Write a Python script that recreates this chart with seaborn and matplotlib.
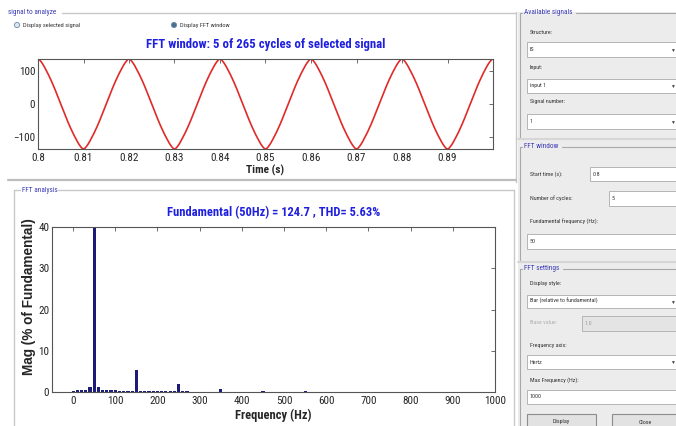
import numpy as np
import pandas as pd
import matplotlib
matplotlib.use("Agg")
import matplotlib.pyplot as plt
from matplotlib import font_manager
from matplotlib.patches import Rectangle, Circle
import seaborn as sns

# ---- data -------------------------------------------------------------
fundamental_hz = 50
fundamental_mag = 124.7
thd_pct = 5.63
t_start, n_cycles, total_cycles = 0.8, 5, 265

# spectrum bins (10 Hz resolution), magnitude in % of fundamental
freq_hz = list(range(0, 1010, 10))
mag_pct = [
    0.2, 0.4, 0.5, 0.5, 1.3, 100.0, 1.2, 0.4, 0.5, 0.4,    # 0 - 90
    0.4, 0.3, 0.2, 0.2, 0.2, 5.3, 0.3, 0.2, 0.15, 0.15,    # 100 - 190
    0.15, 0.15, 0.15, 0.15, 0.2, 1.9, 0.2, 0.15, 0.1, 0.1,  # 200 - 290
    0.1, 0.1, 0.1, 0.1, 0.1, 0.8, 0.1, 0.1, 0.1, 0.1,      # 300 - 390
    0.1, 0.1, 0.1, 0.1, 0.1, 0.3, 0.1, 0.1, 0.1, 0.1,      # 400 - 490
    0.1, 0.1, 0.1, 0.1, 0.1, 0.2, 0.1, 0.1, 0.1, 0.1,      # 500 - 590
    0.1, 0.1, 0.1, 0.1, 0.1, 0.1, 0.1, 0.1, 0.1, 0.1,      # 600 - 690
    0.1, 0.1, 0.1, 0.1, 0.1, 0.1, 0.1, 0.1, 0.1, 0.1,      # 700 - 790
    0.1, 0.1, 0.1, 0.1, 0.1, 0.1, 0.1, 0.1, 0.1, 0.1,      # 800 - 890
    0.1, 0.1, 0.1, 0.1, 0.1, 0.1, 0.1, 0.1, 0.1, 0.1,      # 900 - 990
    0.1,                                                   # 1000
]
time_ticks = [0.8, 0.81, 0.82, 0.83, 0.84, 0.85, 0.86, 0.87, 0.88, 0.89]
sig_yticks = [-100, 0, 100]
freq_ticks = list(range(0, 1100, 100))
mag_yticks = [0, 10, 20, 30, 40]

spec = pd.DataFrame({"freq": freq_hz, "mag": mag_pct})

# time-domain window rebuilt from the odd harmonics of the spectrum
t = np.linspace(t_start, t_start + n_cycles / fundamental_hz, 1500)
harm = spec[(spec["freq"] % (2 * fundamental_hz)) == fundamental_hz]
sig = np.zeros_like(t)
for f, m in zip(harm["freq"], harm["mag"]):
    sig += fundamental_mag * m / 100.0 * np.cos(2 * np.pi * f * (t - t_start))
wave = pd.DataFrame({"t": t, "v": sig})

# ---- style ------------------------------------------------------------
sns.set_style("white")
installed = {f.name for f in font_manager.fontManager.ttflist}
if "Roboto Condensed" in installed:
    NARROW = ["Roboto Condensed", "DejaVu Sans"]
    k = 1.0
else:
    NARROW = ["Liberation Sans", "DejaVu Sans"]
    k = 0.85
plt.rcParams["font.family"] = ["Liberation Sans", "DejaVu Sans"]
W, H = 676, 426
fig = plt.figure(figsize=(W / 100, H / 100), dpi=100)
fig.patch.set_facecolor("white")

def fx(px):
    return px / W

def fy(py):
    return 1 - py / H

# overlay in pixel coordinates for the panel furniture
ov = fig.add_axes([0, 0, 1, 1], zorder=0)
ov.set_xlim(0, W)
ov.set_ylim(H, 0)
ov.axis("off")

PANEL = "#ececec"
EDGE = "#c8c8c8"
LBL = "#3b3bb5"
UI = "#333333"
UIS = 4.3 * k

ov.add_patch(Rectangle((518, 12), W - 518, H - 12, facecolor=PANEL, edgecolor="none"))
ov.plot([516, 516], [12, 182], color=EDGE, lw=1)

# left group boxes
ov.plot([62, 516], [13, 13], color=EDGE, lw=1)
ov.text(8, 13, "signal to analyze", fontsize=5.2 * k, color=LBL, va="center", family=NARROW)
ov.plot([8, 516], [180, 180], color="#bdbdbd", lw=1.6)
ov.add_patch(Circle((17, 25), 2.6, facecolor="#dfe8f0", edgecolor="#6a8aa8", lw=0.6))
ov.text(23, 25, "Display selected signal", fontsize=4.6 * k, color=UI, va="center", family=NARROW)
ov.add_patch(Circle((174, 25), 2.6, facecolor="#4a7090", edgecolor="#6a8aa8", lw=0.6))
ov.text(180, 25, "Display FFT window", fontsize=4.6 * k, color=UI, va="center", family=NARROW)

ov.plot([14, 14], [190, H], color=EDGE, lw=1)
ov.plot([14, 20], [190, 190], color=EDGE, lw=1)
ov.plot([58, 514], [190, 190], color=EDGE, lw=1)
ov.plot([514, 514], [190, H], color=EDGE, lw=1)
ov.text(22, 190, "FFT analysis", fontsize=5.2 * k, color=LBL, va="center", family=NARROW)

# right-hand settings panel
def group(y, label, lx, y_end):
    ov.plot([520, 522], [y, y], color="#a8a8a8", lw=0.8)
    ov.plot([lx, W], [y, y], color="#a8a8a8", lw=0.8)
    ov.plot([520, 520], [y, y_end], color="#a8a8a8", lw=0.8)
    ov.text(524, y, label, fontsize=5.2 * k, color=LBL, va="center", family=NARROW)

def box(x0, y0, x1, y1, txt, arrow=False, fc="white", tc=UI):
    ov.add_patch(Rectangle((x0, y0), x1 - x0, y1 - y0, facecolor=fc,
                           edgecolor="#b5b5b5", lw=0.7))
    ov.text(x0 + 3, (y0 + y1) / 2, txt, fontsize=UIS, color=tc, va="center", family=NARROW)
    if arrow:
        ov.text(672, (y0 + y1) / 2 + 0.5, "\u25BC", fontsize=3.5, color="#404040",
                va="center", ha="center")

def label(x, y, txt, c=UI):
    ov.text(x, y, txt, fontsize=UIS, color=c, va="center", family=NARROW)

group(13, "Available signals", 576, 139)
label(530, 32, "Structure:")
box(527, 42, 679, 57, "IS", arrow=True)
label(530, 67, "Input:")
box(527, 79, 679, 93, "input 1", arrow=True)
label(530, 102, "Signal number:")
box(527, 114, 679, 129, "1", arrow=True)
ov.plot([518, W], [139, 139], color="#d6d6d6", lw=1.5)

group(147, "FFT window", 562, 262)
label(530, 174, "Start time (s):")
box(590, 167, 679, 181, "0.8")
label(530, 198, "Number of cycles:")
box(609, 191, 679, 206, "5")
label(530, 222, "Fundamental frequency (Hz):")
box(527, 234, 679, 249, "50")
ov.plot([518, W], [262, 262], color="#d6d6d6", lw=1.5)

group(269, "FFT settings", 563, H)
label(530, 283, "Display style:")
box(527, 295, 679, 308, "Bar (relative to fundamental)", arrow=True)
label(530, 323, "Base value:", c="#b0b0b0")
box(582, 316, 679, 331, "1.0", fc="#e4e4e4", tc="#a0a0a0")
label(530, 345, "Frequency axis:")
box(527, 355, 679, 369, "Hertz", arrow=True)
label(530, 380, "Max Frequency (Hz):")
box(527, 390, 679, 404, "1000")
for bx0, bx1, bt in [(527, 596, "Display"), (612, 679, "Close")]:
    ov.add_patch(Rectangle((bx0, 414), bx1 - bx0, 16, facecolor="#e2e2e2",
                           edgecolor="#8c8c8c", lw=0.8))
    ov.text((bx0 + bx1) / 2, 422, bt, fontsize=UIS, color=UI, ha="center",
            va="center", family=NARROW)

TITLE_C = "#1f1fe0"
TICK_FS = 8.0 * k

def matlab_axes(ax):
    for s in ax.spines.values():
        s.set_color("#555555")
        s.set_linewidth(0.8)
    ax.tick_params(direction="in", length=3, width=0.6, color="#555555",
                   top=True, right=True, labelsize=TICK_FS, pad=3)
    ax.tick_params(axis="y", pad=2)
    for lab in ax.get_xticklabels() + ax.get_yticklabels():
        lab.set_family(NARROW)

# ---- signal window ------------------------------------------------------
ax1 = fig.add_axes([fx(38), fy(149), fx(493 - 38), (149 - 59) / H], zorder=2)
sns.lineplot(data=wave, x="t", y="v", ax=ax1, color="#e02a2a", lw=1.2)
ax1.set_xlim(t_start, t_start + n_cycles / fundamental_hz)
ax1.set_ylim(wave["v"].min(), wave["v"].max())
ax1.set_xticks(time_ticks)
ax1.set_xticklabels([f"{v:g}" for v in time_ticks])
ax1.set_yticks(sig_yticks)
ax1.set_xlabel("Time (s)", fontsize=8.2 * k, fontweight="bold", labelpad=1, family=NARROW)
ax1.set_ylabel("")
ax1.set_title(f"FFT window: {n_cycles} of {total_cycles} cycles of selected signal",
              fontsize=9.2 * k, fontweight="bold", color=TITLE_C, pad=8, family=NARROW)
matlab_axes(ax1)

# ---- spectrum -----------------------------------------------------------
ax2 = fig.add_axes([fx(52), fy(392), fx(495 - 52), (392 - 227) / H], zorder=2)
sns.barplot(data=spec, x="freq", y="mag", native_scale=True, ax=ax2,
            color="#1c1c78", saturation=1, width=0.75, linewidth=0)
ax2.set_xlim(-50, 1000)
ax2.set_ylim(0, 40)
ax2.set_xticks(freq_ticks)
ax2.set_xticklabels([str(v) for v in freq_ticks])
ax2.set_yticks(mag_yticks)
ax2.set_xlabel("Frequency (Hz)", fontsize=9 * k, fontweight="bold", labelpad=2, family=NARROW)
ax2.set_ylabel("Mag (% of Fundamental)", fontsize=9.8, fontweight="bold")
ax2.yaxis.set_label_coords(-0.037, 0.58)
ax2.set_title(f"Fundamental ({fundamental_hz}Hz) = {fundamental_mag} , THD= {thd_pct}%",
              fontsize=9.0 * k, fontweight="bold", color=TITLE_C, pad=7.5, family=NARROW)
matlab_axes(ax2)

fig.savefig("out.png", dpi=100, facecolor="white")
